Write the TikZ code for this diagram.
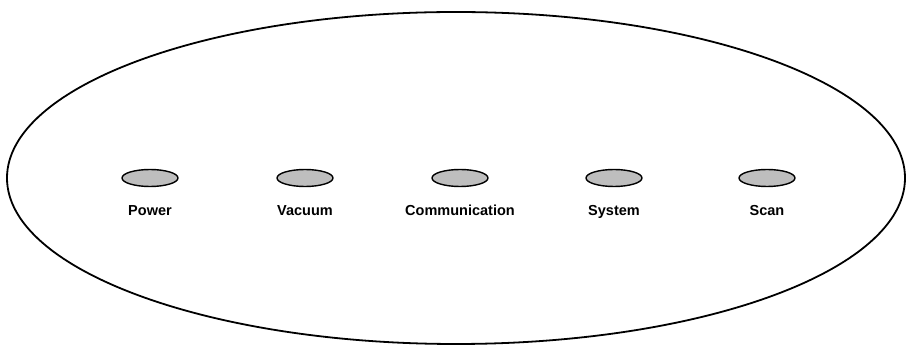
\documentclass[tikz,border=0pt]{standalone}
\usepackage{fontspec}
\setmainfont{Liberation Sans}
\usetikzlibrary{shapes.geometric}
\usetikzlibrary{positioning}
\definecolor{lamp-gray}{HTML}{BEBEBE}

\tikzset{
    lamp/.style={ellipse,draw,line width=1.4pt,fill=lamp-gray,minimum width=56pt,minimum height=17pt,inner sep=0pt},
    lamptag/.style={font=\fontsize{14.5}{16}\selectfont\bfseries,inner sep=0pt,anchor=base}
}

\begin{document}
\begin{tikzpicture}[x=1pt,y=1pt]
    \useasboundingbox (0,0) rectangle (908,345);

    %--- PANEL OUTLINE ----------------------
    \node[ellipse,draw,line width=1.8pt,minimum width=898pt,minimum height=332pt,inner sep=0pt] (panel) at (456,167) {};

    %--- INDICATOR LAMPS --------------------
    \foreach \x/\name/\tag in {150/power/Power, 305/vacuum/Vacuum, 460/comm/Communication, 614/system/System, 767/scan/Scan}{
        \node[lamp] (\name) at (\x,167) {};
        \node[lamptag] (\name-tag) at (\x,129) {\tag};
    }
\end{tikzpicture}
\end{document}
